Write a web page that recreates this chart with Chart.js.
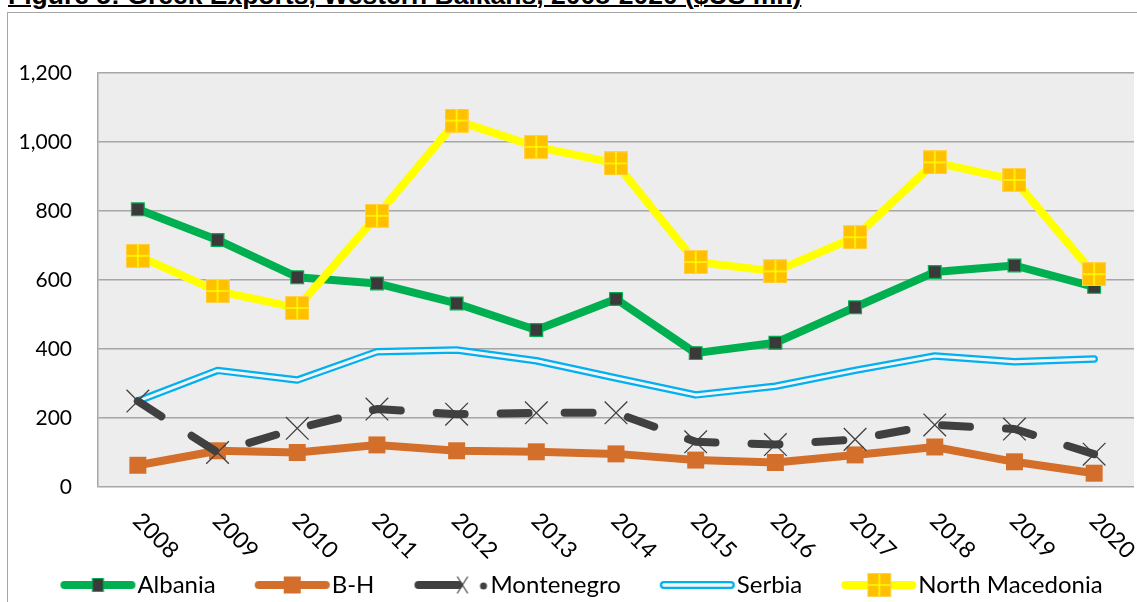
<!DOCTYPE html>
<html>
<head>
<meta charset="utf-8">
<script src="https://cdn.jsdelivr.net/npm/chart.js@4.4.1/dist/chart.umd.min.js"></script>
<style>
  html, body { margin: 0; padding: 0; background: #fff; overflow: hidden; width: 1137px; height: 602px; }
  #title {
    position: absolute; left: 8px; top: -18px; margin: 0;
    font: bold 26.5px "Liberation Sans", Arial, sans-serif; line-height: 27px;
    text-decoration: underline; text-decoration-thickness: 2px; white-space: nowrap; color: #000;
  }
  #box {
    position: absolute; left: 7px; top: 12px; width: 1146px; height: 620px;
    border: 1px solid #a6a6a6; overflow: hidden; background: #fff;
  }
</style>
</head>
<body>
<div id="title">Figure 5: Greek Exports, Western Balkans, 2008-2020 ($US mn)</div>
<div id="box"><canvas id="exportsChart" width="1146" height="620"></canvas></div>
<script>
// values in $US mn
var years = ['2008', '2009', '2010', '2011', '2012', '2013', '2014', '2015', '2016', '2017', '2018', '2019', '2020'];
var albania = [805, 716, 608, 590, 532, 455, 545, 388, 418, 521, 623, 642, 580];
var bosnia = [63, 105, 100, 122, 105, 102, 96, 78, 71, 93, 116, 73, 40];
var montenegro = [249, 100, 170, 226, 211, 215, 215, 131, 123, 138, 180, 168, 95];
var serbia = [249, 338, 310, 392, 397, 366, 316, 267, 292, 338, 380, 363, 371];
var northMacedonia = [670, 568, 519, 786, 1062, 986, 938, 652, 625, 724, 941, 890, 617];
var yTicks = [0, 200, 400, 600, 800, 1000, 1200];

var FONT = 'Lato, "Open Sans", sans-serif';

// gold square with a yellow cross, the North Macedonia marker
function nmMarker() {
    var c = document.createElement('canvas');
    c.width = 24; c.height = 24;
    var g = c.getContext('2d');
    g.fillStyle = '#FFC000';
    g.fillRect(0, 0, 24, 24);
    g.strokeStyle = '#FFD24D';
    g.lineWidth = 1;
    g.strokeRect(0.5, 0.5, 23, 23);
    g.strokeStyle = '#FFFF00';
    g.lineWidth = 1.5;
    g.beginPath();
    g.moveTo(12, 1); g.lineTo(12, 23);
    g.moveTo(1, 12); g.lineTo(23, 12);
    g.stroke();
    return c;
}
var nmPoint = nmMarker();

// legend pictures: 88 px canvas, the left 11 px stay empty so the
// visible 77 px sample starts at the legend box and ends at the text
function sample(kind) {
    var c = document.createElement('canvas');
    c.width = 88; c.height = 26;
    var g = c.getContext('2d');
    g.translate(11, 0);
    var y = 13;
    g.lineCap = 'round';
    function line(color, w, x1, x2) {
        g.strokeStyle = color; g.lineWidth = w;
        g.beginPath(); g.moveTo(x1, y); g.lineTo(x2, y); g.stroke();
    }
    if (kind === 'albania') {
        line('#00B050', 8, 5, 72);
        g.fillStyle = '#3A3A3A'; g.fillRect(33, 6.5, 11, 13);
        g.strokeStyle = '#00B050'; g.lineWidth = 1; g.strokeRect(33, 6.5, 11, 13);
    } else if (kind === 'bosnia') {
        line('#D36F2A', 8, 5, 72);
        g.fillStyle = '#D36F2A'; g.fillRect(30, 4.5, 17, 17);
    } else if (kind === 'montenegro') {
        line('#404040', 8, 6, 46);
        g.strokeStyle = '#404040'; g.lineWidth = 1.2;
        g.beginPath();
        g.moveTo(45, 5); g.lineTo(55, 21);
        g.moveTo(55, 5); g.lineTo(45, 21);
        g.stroke();
        g.fillStyle = '#404040';
        g.beginPath(); g.arc(71, y + 1, 3.5, 0, Math.PI * 2); g.fill();
    } else if (kind === 'serbia') {
        line('#00B0F0', 8, 5, 72);
        line('#F4F4F4', 3.5, 5, 72);
    } else {
        line('#FFFF00', 8, 5, 72);
        g.drawImage(nmPoint, 27, 1, 24, 24);
    }
    return c;
}

var legendSamples = {
    'Albania': sample('albania'),
    'B-H': sample('bosnia'),
    'Montenegro': sample('montenegro'),
    'Serbia': sample('serbia'),
    'North Macedonia': sample('nm')
};

var plotBg = {
    id: 'plotBg',
    beforeDraw: function (chart) {
        var a = chart.chartArea, ctx = chart.ctx;
        ctx.save();
        ctx.fillStyle = '#EDEDED';
        ctx.fillRect(a.left, a.top, a.right - a.left, a.bottom - a.top);
        ctx.restore();
    }
};

// year labels slanting down to the right, as in the original
var yearLabels = {
    id: 'yearLabels',
    afterDraw: function (chart) {
        var xs = chart.scales.x, ctx = chart.ctx;
        ctx.save();
        ctx.font = '23px ' + FONT;
        ctx.fillStyle = '#000';
        ctx.textAlign = 'left';
        ctx.textBaseline = 'middle';
        years.forEach(function (yr, i) {
            ctx.save();
            ctx.translate(xs.getPixelForTick(i) - 1, chart.chartArea.bottom + 30);
            ctx.rotate(Math.PI / 4);
            ctx.fillText(yr, 0, 0);
            ctx.restore();
        });
        ctx.restore();
    }
};

document.addEventListener('DOMContentLoaded', function () {
    var ctx = document.getElementById('exportsChart').getContext('2d');
    new Chart(ctx, {
        type: 'line',
        data: {
            labels: years,
            datasets: [
                {
                    label: 'Albania', data: albania, order: 5,
                    borderColor: '#00B050', borderWidth: 8,
                    pointStyle: 'rect', pointRadius: 9, pointBackgroundColor: '#3A3A3A',
                    pointBorderColor: '#00B050', pointBorderWidth: 1.2
                },
                {
                    label: 'B-H', data: bosnia, order: 4,
                    borderColor: '#D36F2A', borderWidth: 8,
                    pointStyle: 'rect', pointRadius: 12, pointBackgroundColor: '#D36F2A',
                    pointBorderColor: '#D36F2A', pointBorderWidth: 0
                },
                {
                    label: 'Montenegro', data: montenegro, order: 1,
                    borderColor: '#404040', borderWidth: 8, borderDash: [28, 36],
                    pointStyle: 'crossRot', pointRadius: 16,
                    pointBorderColor: '#404040', pointBorderWidth: 1.3
                },
                {
                    label: 'Serbia', data: serbia, order: 3,
                    borderColor: '#00B0F0', borderWidth: 7.5, pointRadius: 0
                },
                {
                    // inner stroke that makes Serbia a double line
                    label: 'Serbia inner', data: serbia, order: 2,
                    borderColor: '#F4F4F4', borderWidth: 3, pointRadius: 0
                },
                {
                    label: 'North Macedonia', data: northMacedonia, order: 0,
                    borderColor: '#FFFF00', borderWidth: 8,
                    pointStyle: nmPoint, pointRadius: 12
                }
            ]
        },
        options: {
            responsive: false,
            animation: false,
            devicePixelRatio: 1,
            datasets: {
                line: { tension: 0, fill: false, borderJoinStyle: 'round', borderCapStyle: 'round' }
            },
            layout: { padding: { left: 0, right: 0, top: 60, bottom: 26 } },
            scales: {
                x: {
                    offset: true,
                    grid: { display: false, drawTicks: false, offset: true },
                    border: { display: false },
                    ticks: { display: false },
                    afterFit: function (s) { s.height = 48; }
                },
                y: {
                    min: 0, max: 1200,
                    afterBuildTicks: function (s) { s.ticks = yTicks.map(function (v) { return { value: v }; }); },
                    grid: { color: '#A6A6A6', lineWidth: 1.5, drawTicks: false },
                    border: { display: true, color: '#A6A6A6', width: 1.5 },
                    ticks: {
                        padding: 26, color: '#000',
                        font: { family: FONT, size: 21 },
                        callback: function (v) { return v.toLocaleString('en-US'); }
                    },
                    afterFit: function (s) { s.width = 90; }
                },
                // empty strip on the right so the plot stops short of the frame
                gap: {
                    type: 'linear', position: 'right', min: 0, max: 1,
                    grid: { display: false, drawTicks: false },
                    border: { display: false },
                    ticks: { display: false },
                    afterFit: function (s) { s.width = 20; }
                }
            },
            plugins: {
                tooltip: { enabled: false },
                legend: {
                    position: 'bottom',
                    labels: {
                        usePointStyle: true,
                        pointStyleWidth: 66,
                        padding: 38,
                        color: '#000',
                        font: { family: FONT, size: 24 },
                        generateLabels: function (chart) {
                            return chart.data.datasets.map(function (ds, i) {
                                return { text: ds.label, datasetIndex: i, pointStyle: legendSamples[ds.label],
                                         lineWidth: 0, hidden: false, fontColor: '#000' };
                            }).filter(function (it) { return legendSamples[it.text]; });
                        }
                    }
                }
            }
        },
        plugins: [plotBg, yearLabels]
    });
});
</script>
</body>
</html>
